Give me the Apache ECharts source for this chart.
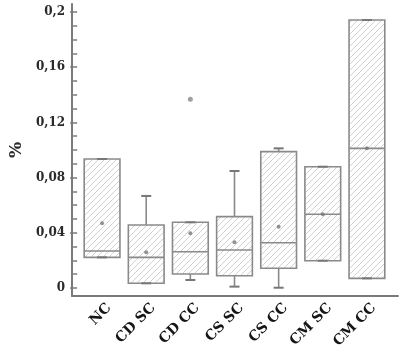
<!DOCTYPE html>
<html><head><meta charset="utf-8">
<script src="https://cdn.jsdelivr.net/npm/echarts@6/dist/echarts.min.js"></script>
<style>html,body{margin:0;padding:0;background:#fff}#c{width:414px;height:351px}</style>
</head><body><div id="c"></div>
<script>
const categories = ['NC', 'CD SC', 'CD CC', 'CS SC', 'CS CC', 'CM SC', 'CM CC'];
const whiskerLow  = [0.0222, 0.0034, 0.0058, 0.0010, 0.0002, 0.0198, 0.0070];
const q1          = [0.0222, 0.0034, 0.0101, 0.0089, 0.0143, 0.0198, 0.0070];
const median      = [0.0268, 0.0222, 0.0263, 0.0275, 0.0328, 0.0534, 0.1012];
const q3          = [0.0935, 0.0457, 0.0476, 0.0517, 0.0988, 0.0879, 0.1942];
const whiskerHigh = [0.0935, 0.0667, 0.0476, 0.0848, 0.1012, 0.0879, 0.1942];
const means       = [0.0470, 0.0259, 0.0396, 0.0331, 0.0444, 0.0534, 0.1012];
const outlierCats = [2];
const outlierVals = [0.1367];
const yTickLabels = ['0', '0,04', '0,08', '0,12', '0,16', '0,2'];

// hatch pattern
const pc = document.createElement('canvas');
pc.width = 6; pc.height = 6;
const g = pc.getContext('2d');
g.strokeStyle = '#d2d2d2'; g.lineWidth = 1;
g.beginPath();
g.moveTo(-1, 7); g.lineTo(7, -1);
g.moveTo(-4, 4); g.lineTo(4, -4);
g.moveTo(2, 10); g.lineTo(10, 2);
g.stroke();

const boxData = categories.map((c, i) => [i, whiskerLow[i], q1[i], median[i], q3[i], whiskerHigh[i]]);
const lineCol = '#8a8a8a';
const font = 'DejaVu Serif';

const chart = echarts.init(document.getElementById('c'), null, {renderer: 'canvas'});
chart.setOption({
  animation: false,
  backgroundColor: '#fff',
  grid: [
    {left: 72, right: 16, top: 4, bottom: 55},
    {left: 72, right: 16, top: 12, bottom: 63},
    {left: 80, right: 25, top: 12, bottom: 63},
    {left: 87, right: 18, top: 12, bottom: 63}
  ],
  xAxis: [
    {gridIndex: 0, type: 'value', min: 0, max: 1, axisLine: {show: true, lineStyle: {color: '#7a7a7a', width: 2}},
     axisTick: {show: false}, axisLabel: {show: false}, splitLine: {show: false}},
    {gridIndex: 1, type: 'value', min: 0, max: 1, show: false},
    {gridIndex: 2, type: 'category', data: categories, show: false},
    {gridIndex: 3, type: 'category', data: categories,
     axisLine: {show: false}, axisTick: {show: false},
     axisLabel: {rotate: 45, margin: 18, fontFamily: font, fontWeight: 'bold', fontSize: 14, color: '#151515'}}
  ],
  yAxis: [
    {gridIndex: 0, type: 'value', min: 0, max: 1, axisLine: {show: true, lineStyle: {color: '#7a7a7a', width: 2}},
     axisTick: {show: false}, axisLabel: {show: false}, splitLine: {show: false}},
    {gridIndex: 1, type: 'value', min: 0, max: 0.2, interval: 0.04,
     axisLine: {show: false},
     axisTick: {show: true, inside: false, length: 7, lineStyle: {color: '#7a7a7a', width: 1.5}},
     minorTick: {show: true, splitNumber: 4, length: 4, lineStyle: {color: '#7a7a7a', width: 1.5}},
     splitLine: {show: false},
     axisLabel: {margin: 12, fontFamily: font, fontWeight: 'bold', fontSize: 12, color: '#2a2a2a',
       formatter: v => yTickLabels[Math.round(v / 0.04)]},
     name: '%', nameLocation: 'middle', nameRotate: 90, nameGap: 52,
     nameTextStyle: {fontFamily: font, fontWeight: 'bold', fontSize: 17, color: '#2a2a2a'}},
    {gridIndex: 2, type: 'value', min: 0, max: 0.2, show: false},
    {gridIndex: 3, type: 'value', min: 0, max: 0.2, show: false}
  ],
  series: [
    {
      type: 'custom', xAxisIndex: 2, yAxisIndex: 2, data: boxData,
      renderItem: function (params, api) {
        const i = api.value(0);
        const pLow = api.coord([i, api.value(1)]);
        const pQ1 = api.coord([i, api.value(2)]);
        const pMed = api.coord([i, api.value(3)]);
        const pQ3 = api.coord([i, api.value(4)]);
        const pHigh = api.coord([i, api.value(5)]);
        const bw = api.size([1, 0])[0] * 0.81;
        const x = pMed[0];
        const cap = 5;
        const st = {stroke: lineCol, lineWidth: 1.6, fill: null};
        return {
          type: 'group',
          children: [
            {type: 'rect', shape: {x: x - bw / 2, y: pQ3[1], width: bw, height: pQ1[1] - pQ3[1]},
             style: {fill: {type: 'pattern', image: pc, repeat: 'repeat'}, stroke: lineCol, lineWidth: 1.6}},
            {type: 'line', shape: {x1: x - bw / 2, y1: pMed[1], x2: x + bw / 2, y2: pMed[1]}, style: st},
            {type: 'line', shape: {x1: x, y1: pQ3[1], x2: x, y2: pHigh[1]}, style: st},
            {type: 'line', shape: {x1: x, y1: pQ1[1], x2: x, y2: pLow[1]}, style: st},
            {type: 'line', shape: {x1: x - cap, y1: pHigh[1], x2: x + cap, y2: pHigh[1]}, style: {stroke: '#777', lineWidth: 2}},
            {type: 'line', shape: {x1: x - cap, y1: pLow[1], x2: x + cap, y2: pLow[1]}, style: {stroke: '#777', lineWidth: 2}}
          ]
        };
      }
    },
    {
      type: 'scatter', xAxisIndex: 2, yAxisIndex: 2, symbol: 'circle', symbolSize: 4,
      itemStyle: {color: '#777'},
      data: means.map((m, i) => [i, m])
    },
    {
      type: 'scatter', xAxisIndex: 2, yAxisIndex: 2, symbol: 'circle', symbolSize: 5,
      itemStyle: {color: '#888'},
      data: outlierCats.map((c, k) => [c, outlierVals[k]])
    }
  ]
});
</script>
</body></html>
